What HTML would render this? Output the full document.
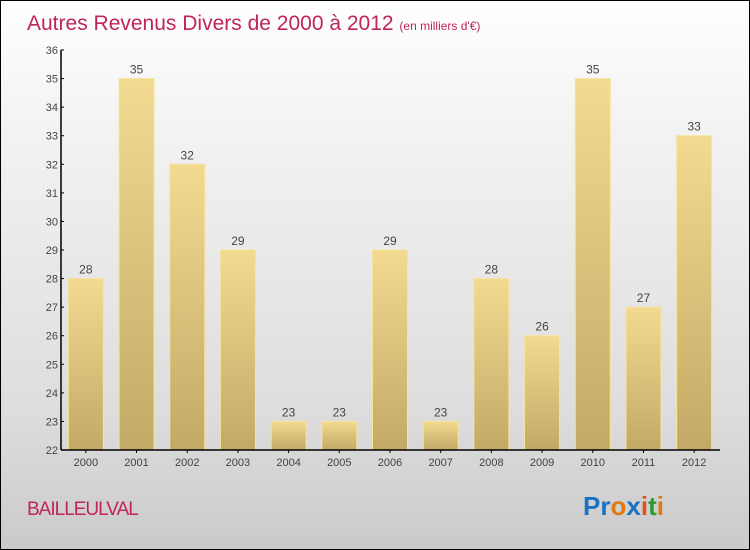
<!DOCTYPE html>
<html><head><meta charset="utf-8"><style>
body{margin:0}
#c{position:relative;width:748px;height:548px;border:1px solid #000;background:linear-gradient(#fff,#f4f4f4 20%,#ddd 75%,#cacaca);font-family:"Liberation Sans",sans-serif;overflow:hidden}
</style></head><body>
<div id="c">
<svg width="748" height="548" viewBox="0 0 748 548">
<defs>
<linearGradient id="bg" x1="0" y1="0" x2="0" y2="1"><stop offset="0" stop-color="#f3da91"/><stop offset="1" stop-color="#c2aa66"/></linearGradient>
</defs>
<text x="26" y="29" font-size="21" fill="#c0245a">Autres Revenus Divers de 2000 à 2012 <tspan font-size="12">(en milliers d'€)</tspan></text>
<g id="g"></g>
<text x="26" y="514" font-size="19" fill="#c0245a" letter-spacing="-1">BAILLEULVAL</text>
<text x="582" y="514" font-size="26" font-weight="bold"><tspan fill="#1a72c4">Pr</tspan><tspan fill="#e07a10">o</tspan><tspan fill="#1a72c4">x</tspan><tspan fill="#e0501a">i</tspan><tspan fill="#2a9a2a">t</tspan><tspan fill="#e07a10">i</tspan></text>
</svg>
</div>
<script>
const categories=["2000","2001","2002","2003","2004","2005","2006","2007","2008","2009","2010","2011","2012"];
const values=[28,35,32,29,23,23,29,23,28,26,35,27,33];
const yTicks=[22,23,24,25,26,27,28,29,30,31,32,33,34,35,36];
const ns="http://www.w3.org/2000/svg",g=document.getElementById('g');
const x0=60,x1=719,yb=449,yt=49,ymin=22,ymax=36;
const y=v=>yb-(v-ymin)/(ymax-ymin)*(yb-yt);
const step=(x1-x0)/categories.length;
const cx=i=>x0+step*(i+0.5)-0.5;
function mk(t,a,p){const e=document.createElementNS(ns,t);for(const k in a)e.setAttribute(k,a[k]);(p||g).appendChild(e);return e;}
values.forEach((v,i)=>{
 const r=mk('rect',{x:cx(i)-17.5,y:y(v),width:35,height:yb-y(v),fill:'url(#bg)',stroke:'#f6e49f','stroke-width':1});
 
 
 const t=mk('text',{x:cx(i),y:y(v)-5,'text-anchor':'middle','font-size':12,fill:'#444'});t.textContent=v;
 
 
 const l=mk('text',{x:cx(i),y:yb+16,'text-anchor':'middle','font-size':11,fill:'#444'});l.textContent=categories[i];
 
 
 mk('line',{x1:cx(i),x2:cx(i),y1:yb,y2:yb+3,stroke:'#000'});
});
yTicks.forEach(v=>{
 mk('line',{x1:x0,x2:x0+3,y1:y(v),y2:y(v),stroke:'#000'});
 const t=mk('text',{x:x0-3,y:y(v)+4,'text-anchor':'end','font-size':11,fill:'#444'});t.textContent=v;
 
 
});
const ya=mk('line',{x1:x0,x2:x0,y1:yt,y2:yb,stroke:'#000','stroke-width':1.5});


const xa=mk('line',{x1:x0,x2:x1,y1:yb,y2:yb,stroke:'#000','stroke-width':1.5});


</script>
</body></html>
